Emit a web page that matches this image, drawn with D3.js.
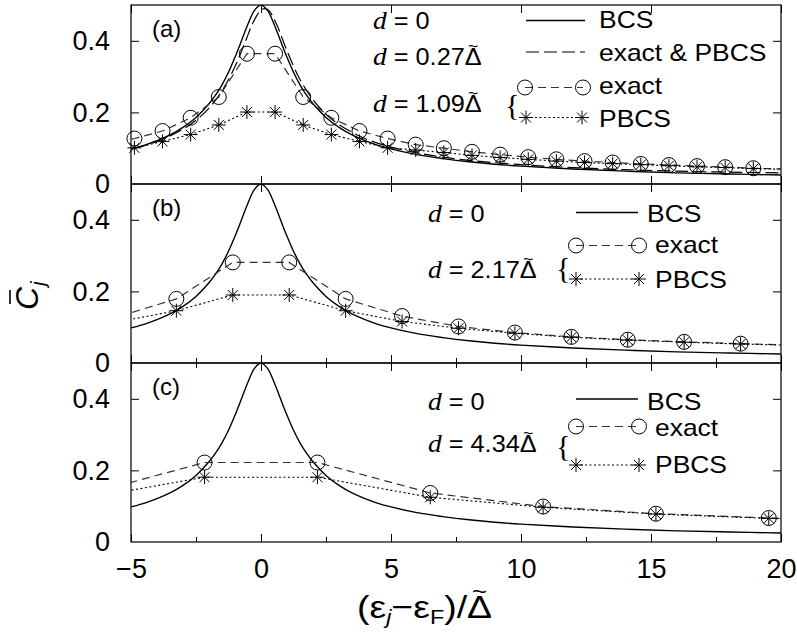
<!DOCTYPE html>
<html><head><meta charset="utf-8">
<script src="https://cdn.jsdelivr.net/npm/d3@7"></script>
<style>body{margin:0;background:#fff} svg{display:block}</style>
</head><body>
<script>
// ---- data ----
const xTicks = [-5, 0, 5, 10, 15, 20];
const xMinor = [-2.5, 2.5, 7.5, 12.5, 17.5];
const yTicks = [0, 0.2, 0.4];
const panelLabels = ["(a)", "(b)", "(c)"];

// BCS (d = 0), same curve in all panels
const bcsX = [-5.5,-5,-4.5,-4,-3.5,-3,-2.5,-2,-1.75,-1.5,-1.25,-1,-0.75,-0.5,-0.25,0,0.25,0.5,0.75,1,1.25,1.5,1.75,2,2.5,3,3.5,4,4.5,5,6,7,8,9,10,12,14,16,18,20];
const bcsY = [0.089,0.098,0.108,0.121,0.137,0.158,0.186,0.224,0.248,0.277,0.312,0.354,0.400,0.447,0.485,0.500,0.485,0.447,0.400,0.354,0.312,0.277,0.248,0.224,0.186,0.158,0.137,0.121,0.108,0.098,0.082,0.071,0.062,0.055,0.050,0.042,0.036,0.031,0.028,0.025];

// panel (a): d = 0.27 (exact & PBCS)
const aDashX = [-5.5,-5,-4,-3,-2.5,-2,-1.5,-1,-0.6,-0.3,0,0.15,0.3,0.6,1,1.5,2,2.5,3,4,5,6,7,8,10,12,14,16,18,20];
const aDashY = [0.089,0.097,0.119,0.153,0.178,0.212,0.260,0.328,0.398,0.452,0.486,0.490,0.485,0.446,0.372,0.292,0.235,0.195,0.166,0.127,0.103,0.087,0.075,0.066,0.054,0.046,0.040,0.036,0.033,0.031];
// panel (a): d = 1.09
const aX     = [-5.951,-4.869,-3.787,-2.705,-1.623,-0.541,0.541,1.623,2.705,3.787,4.869,5.951,7.033,8.115,9.197,10.279,11.361,12.443,13.525,14.607,15.689,16.771,17.853,18.935,20.017];
const aExact = [0.110,0.127,0.148,0.185,0.243,0.364,0.364,0.243,0.185,0.148,0.127,0.110,0.100,0.090,0.082,0.075,0.069,0.064,0.060,0.056,0.053,0.050,0.047,0.044,0.042];
const aPBCS  = [0.095,0.101,0.119,0.138,0.165,0.201,0.201,0.165,0.138,0.119,0.101,0.095,0.088,0.080,0.074,0.069,0.064,0.060,0.057,0.054,0.051,0.048,0.046,0.043,0.041];
// panel (b): d = 2.17
const bX     = [-5.425,-3.255,-1.085,1.085,3.255,5.425,7.595,9.765,11.935,14.105,16.275,18.445,20.615];
const bExact = [0.131,0.179,0.281,0.281,0.179,0.131,0.102,0.085,0.073,0.065,0.059,0.054,0.050];
const bPBCS  = [0.116,0.146,0.190,0.190,0.146,0.116,0.097,0.083,0.072,0.064,0.058,0.053,0.049];
// panel (c): d = 4.34
const cX     = [-6.51,-2.17,2.17,6.51,10.85,15.19,19.53,23.87];
const cExact = [0.137,0.222,0.222,0.137,0.099,0.079,0.067,0.058];
const cPBCS  = [0.125,0.181,0.181,0.125,0.097,0.078,0.066,0.057];

// ---- layout ----
const W = 797, H = 632;
const L = 131, R = 781, PH = 179;
const tops = [5, 184, 363];
const SANS = "'Liberation Sans', Arial, Helvetica, sans-serif";
const SERIF = "'Liberation Serif', 'Times New Roman', serif";

const svg = d3.select("body").append("svg").attr("width", W).attr("height", H)
  .style("font-family", SANS);
const x = d3.scaleLinear().domain([-5, 20]).range([L, R]);

const zip = (xs, ys) => xs.map((v, i) => [v, ys[i]]);
const starPath = "M-7,0H7M0,-7V7M-5,-5L5,5M-5,5L5,-5";

const styles = {
  bcs:   {w: 1.4, dash: null, col: "#000"},
  d027:  {w: 1.2, dash: "13,5", col: "#000"},
  exact: {w: 1.2, dash: "8,5", col: "#333"},
  pbcs:  {w: 1.1, dash: "2,2.5", col: "#000"}
};

const panels = [
  {series: [
    {xs: aDashX, ys: aDashY, st: "d027", curve: true},
    {xs: aX, ys: aExact, st: "exact", mark: "circle"},
    {xs: aX, ys: aPBCS, st: "pbcs", mark: "star"}],
   minorTop: false, minorBottom: false},
  {series: [
    {xs: bX, ys: bExact, st: "exact", mark: "circle"},
    {xs: bX, ys: bPBCS, st: "pbcs", mark: "star"}],
   minorTop: false, minorBottom: true},
  {series: [
    {xs: cX, ys: cExact, st: "exact", mark: "circle"},
    {xs: cX, ys: cPBCS, st: "pbcs", mark: "star"}],
   minorTop: true, minorBottom: true}
];

function styleLine(sel, st) {
  const s = styles[st];
  sel.attr("fill", "none").attr("stroke", s.col).attr("stroke-width", s.w);
  if (s.dash) sel.attr("stroke-dasharray", s.dash);
  return sel;
}

// append "Δ" followed by a tilde placed above it, inside the same text element
function deltaTilde(t, fs, tildeFs, raise) {
  t.append("tspan").text("\u0394");
  const dWidth = 0.668 * fs, tWidth = 0.584 * tildeFs;
  t.append("tspan").attr("font-size", tildeFs)
    .attr("dx", -(dWidth + tWidth) / 2).attr("dy", -raise).text("~");
}

panels.forEach((p, i) => {
  const top = tops[i], bot = top + PH;
  const y = d3.scaleLinear().domain([0, 0.5]).range([bot, top]);
  const g = svg.append("g");

  g.append("clipPath").attr("id", "clip" + i)
    .append("rect").attr("x", L).attr("y", top).attr("width", R - L).attr("height", PH);

  const tk = (axis, tr) => g.append("g").attr("transform", tr).call(axis)
      .call(a => a.select(".domain").remove())
      .call(a => a.selectAll("line").attr("stroke", "#000").attr("stroke-width", 1));
  tk(d3.axisLeft(y).tickValues([0.2, 0.4]).tickSize(-8).tickFormat(""), `translate(${L},0)`);
  tk(d3.axisRight(y).tickValues([0.2, 0.4]).tickSize(-8).tickFormat(""), `translate(${R},0)`);
  tk(d3.axisTop(x).tickValues(xTicks).tickSize(-8).tickFormat(""), `translate(0,${top})`);
  tk(d3.axisBottom(x).tickValues(xTicks).tickSize(-8).tickFormat(""), `translate(0,${bot})`);
  if (p.minorTop) tk(d3.axisTop(x).tickValues(xMinor).tickSize(-5).tickFormat(""), `translate(0,${top})`);
  if (p.minorBottom) tk(d3.axisBottom(x).tickValues(xMinor).tickSize(-5).tickFormat(""), `translate(0,${bot})`);

  // y tick labels
  g.append("g").attr("transform", `translate(${L},0)`)
    .call(d3.axisLeft(y).tickValues(yTicks).tickSize(0).tickPadding(21)
      .tickFormat(d => d === 0 ? "0" : d3.format(".1f")(d)))
    .call(a => a.select(".domain").remove())
    .call(a => a.selectAll("text").attr("font-size", 27).attr("font-family", SANS).attr("fill", "#000"));

  // curves
  const cg = g.append("g").attr("clip-path", `url(#clip${i})`);
  const smooth = d3.line().x(d => x(d[0])).y(d => y(d[1])).curve(d3.curveCatmullRom.alpha(0.5));
  const straight = d3.line().x(d => x(d[0])).y(d => y(d[1]));
  styleLine(cg.append("path").attr("d", smooth(zip(bcsX, bcsY))), "bcs");
  p.series.forEach(s => {
    const line = s.curve ? smooth : straight;
    styleLine(cg.append("path").attr("d", line(zip(s.xs, s.ys))), s.st);
  });
  // markers
  p.series.forEach(s => {
    if (!s.mark) return;
    const pts = zip(s.xs, s.ys).filter(d => d[0] >= -5 && d[0] <= 20);
    if (s.mark === "circle") {
      g.selectAll(null).data(pts).enter().append("circle")
        .attr("cx", d => x(d[0])).attr("cy", d => y(d[1])).attr("r", 7.5)
        .attr("fill", "none").attr("stroke", "#000").attr("stroke-width", 1);
    } else {
      g.selectAll(null).data(pts).enter().append("path")
        .attr("transform", d => `translate(${x(d[0])},${y(d[1])})`).attr("d", starPath)
        .attr("fill", "none").attr("stroke", "#000").attr("stroke-width", 1);
    }
  });

  g.append("rect").attr("x", L).attr("y", top).attr("width", R - L).attr("height", PH)
    .attr("fill", "none").attr("stroke", "#000").attr("stroke-width", 1.2);

  g.append("text").attr("x", 152).attr("y", top + 32).attr("font-size", 24).text(panelLabels[i]);
});

// x tick labels (bottom panel)
svg.append("g").attr("transform", `translate(0,${tops[2] + PH})`)
  .call(d3.axisBottom(x).tickValues(xTicks).tickSize(0).tickPadding(17)
    .tickFormat(d => d < 0 ? "\u2212" + Math.abs(d) : String(d)))
  .call(a => a.select(".domain").remove())
  .call(a => a.selectAll("text").attr("font-size", 27).attr("font-family", SANS).attr("fill", "#000"));

// axis titles
const xl = svg.append("text").attr("transform", "translate(357,618) scale(1.17,1)").attr("font-size", 32);
xl.append("tspan").text("(\u03b5");
xl.append("tspan").attr("font-size", 20).attr("font-style", "italic").attr("dy", 6).text("j");
xl.append("tspan").attr("dy", -6).text("\u2212\u03b5");
xl.append("tspan").attr("font-size", 20).attr("dy", 6).text("F");
xl.append("tspan").attr("dy", -6).text(")/");
deltaTilde(xl, 32, 22, 19);

const yl = svg.append("g").attr("transform", "translate(38,296) rotate(-90)");
yl.append("text").attr("x", -14).attr("y", 0).attr("font-size", 32).attr("font-style", "italic")
  .call(t => { t.append("tspan").text("C");
               t.append("tspan").attr("font-size", 21).attr("dy", 7).attr("dx", 1).text("j"); });
yl.append("line").attr("x1", -8).attr("x2", 6).attr("y1", -28).attr("y2", -28)
  .attr("stroke", "#000").attr("stroke-width", 1.6);

// ---- legends ----
const LF = 23, SX = 1.15, SXD = 1.1;
function ltext(x0, y0, str) {
  return svg.append("text").attr("transform", `translate(${x0},${y0}) scale(${SX},1)`)
    .attr("font-size", LF).text(str);
}
function dtext(x0, y0, val, tilde) {
  const t = svg.append("text").attr("transform", `translate(${x0},${y0}) scale(${SXD},1)`).attr("font-size", LF);
  t.append("tspan").attr("font-family", SERIF).attr("font-style", "italic").attr("font-size", LF + 2).text("d");
  t.append("tspan").text(" = " + val);
  if (tilde) deltaTilde(t, LF, 16, 13);
  return t;
}
function brace(x0, y0) {
  svg.append("text").attr("x", x0).attr("y", y0).attr("font-family", SERIF).attr("font-size", 30).text("{");
}
function lline(x1, x2, yy, st) {
  styleLine(svg.append("line").attr("x1", x1).attr("x2", x2).attr("y1", yy).attr("y2", yy), st);
}
function lcirc(cx, cy) {
  svg.append("circle").attr("cx", cx).attr("cy", cy).attr("r", 7.5).attr("fill", "none")
    .attr("stroke", "#000").attr("stroke-width", 1);
}
function lstar(cx, cy) {
  svg.append("path").attr("transform", `translate(${cx},${cy})`).attr("d", starPath)
    .attr("fill", "none").attr("stroke", "#000").attr("stroke-width", 1);
}

// panel (a)
dtext(373, 29, "0", false);
lline(526, 585, 20.5, "bcs"); ltext(599, 28, "BCS");
dtext(373, 65, "0.27", true);
lline(526, 585, 52, "d027"); ltext(599, 61, "exact & PBCS");
dtext(373, 112, "1.09", true);
brace(505, 115);
lline(525, 583, 87.5, "exact"); lcirc(525, 87.5); lcirc(583, 87.5); ltext(599, 94, "exact");
lline(526, 582, 117.5, "pbcs"); lstar(526, 117.5); lstar(582, 117.5); ltext(599, 127, "PBCS");

// panel (b)
dtext(428, 222, "0", false);
lline(576, 638, 212.5, "bcs"); ltext(647, 222, "BCS");
dtext(428, 278, "2.17", true);
brace(556, 278);
lline(576, 639, 245.5, "exact"); lcirc(576, 245.5); lcirc(639, 245.5); ltext(655, 253, "exact");
lline(576, 639, 279, "pbcs"); lstar(576, 279); lstar(639, 279); ltext(655, 288, "PBCS");

// panel (c)
dtext(428, 410, "0", false);
lline(576, 638, 399, "bcs"); ltext(647, 410, "BCS");
dtext(428, 452, "4.34", true);
brace(556, 456);
lline(576, 639, 426.5, "exact"); lcirc(576, 426.5); lcirc(639, 426.5); ltext(655, 436, "exact");
lline(576, 639, 465, "pbcs"); lstar(576, 465); lstar(639, 465); ltext(655, 473, "PBCS");
</script>
</body></html>
